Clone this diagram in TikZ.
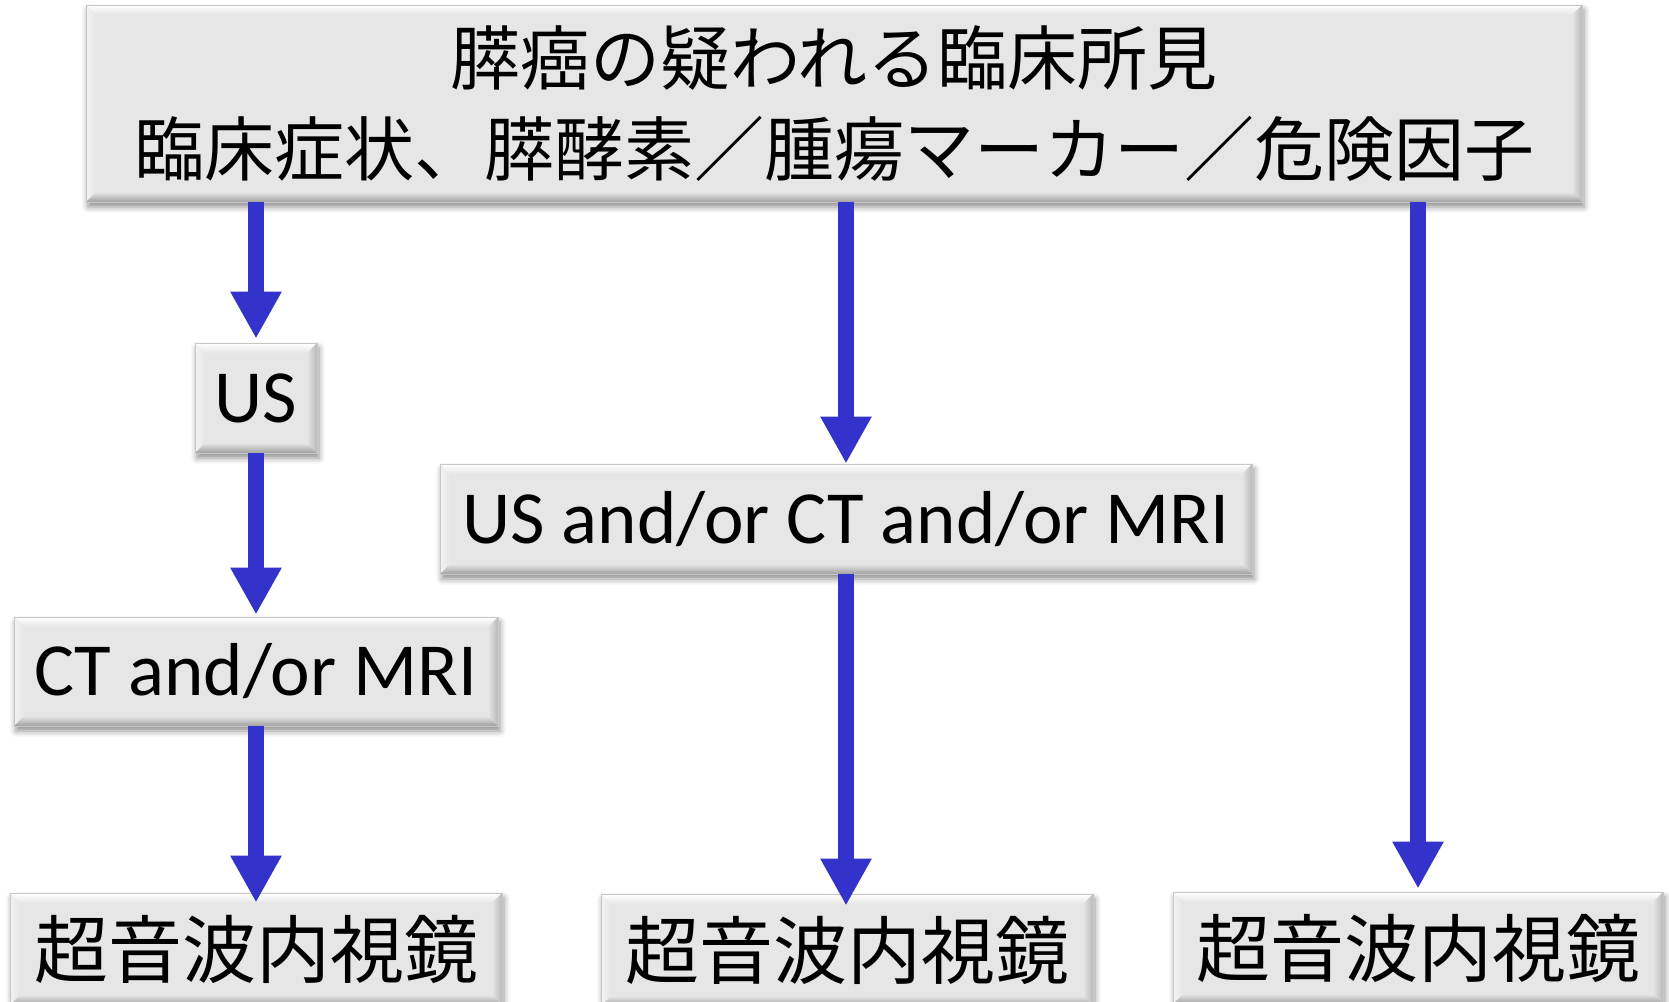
\documentclass[tikz,border=0pt]{standalone}
\usepackage{fontspec}
\setmainfont{Carlito}
\newfontfamily\jpfont{Noto Sans CJK JP}
\usetikzlibrary{arrows.meta,calc,shadows.blur}
\definecolor{boxgray}{RGB}{230,230,230}
\definecolor{bevmid}{RGB}{185,185,185}
\definecolor{bevdark}{RGB}{160,160,160}
\definecolor{arrowblue}{RGB}{51,51,204}
\tikzset{
  bevelbox/.style={rectangle, inner sep=0pt, fill=boxgray, draw=black!22, line width=0.4pt,
    blur shadow={shadow xshift=1pt, shadow yshift=-2.5pt, shadow blur radius=3pt, shadow opacity=45},
    path picture={
      \coordinate (bNW) at (path picture bounding box.north west);
      \coordinate (bNE) at (path picture bounding box.north east);
      \coordinate (bSW) at (path picture bounding box.south west);
      \coordinate (bSE) at (path picture bounding box.south east);
      \coordinate (iNW) at ($(bNW)+(5pt,-5pt)$);
      \coordinate (iNE) at ($(bNE)+(-5pt,-5pt)$);
      \coordinate (iSW) at ($(bSW)+(5pt,5pt)$);
      \coordinate (iSE) at ($(bSE)+(-5pt,5pt)$);
      \shade[top color=white, bottom color=boxgray] (bNW) -- (bNE) -- (iNE) -- (iNW) -- cycle;
      \shade[left color=white!50!boxgray, right color=boxgray] (bNW) -- (iNW) -- (iSW) -- (bSW) -- cycle;
      \shade[left color=boxgray, right color=bevmid] (bNE) -- (bSE) -- (iSE) -- (iNE) -- cycle;
      \shade[top color=boxgray, bottom color=bevdark] (bSW) -- (iSW) -- (iSE) -- (bSE) -- cycle;
    }},
  jptext/.style={font=\jpfont\fontsize{35pt}{45.5pt}\selectfont, align=center},
  jpbig/.style={font=\jpfont\fontsize{37pt}{44pt}\selectfont},
  latin/.style={font=\fontsize{37.5pt}{45pt}\selectfont, text height=24.1pt, text depth=0pt},
  arr/.style={draw=arrowblue, line width=8pt, -{Triangle[width=24pt,length=23.5pt]}}
}
\begin{document}
\begin{tikzpicture}[x=0.5pt,y=-0.5pt]
\path[use as bounding box] (0,0) rectangle (1669,1001);
\clip (0,0) rectangle (1669,1001);
\node[bevelbox, jptext, minimum width=748pt, minimum height=98.5pt] (top) at (834,103.5)
  {膵癌の疑われる臨床所見\\臨床症状、膵酵素／腫瘍マーカー／危険因子};
\node[bevelbox, latin, minimum width=61pt, minimum height=55pt] (us) at (256,398) {US};
\node[bevelbox, latin, minimum width=242pt, minimum height=54.5pt] (ct) at (256,671.5) {CT and/or MRI};
\node[bevelbox, latin, minimum width=406pt, minimum height=55pt] (mid) at (846,519) {US and/or CT and/or MRI};
\node[bevelbox, jpbig, minimum width=246pt, minimum height=56pt] (b1) at (256,949) {超音波内視鏡};
\node[bevelbox, jpbig, minimum width=246pt, minimum height=56pt] (b2) at (847,950) {超音波内視鏡};
\node[bevelbox, jpbig, minimum width=245pt, minimum height=56pt] (b3) at (1418,948) {超音波内視鏡};
\draw[arr, shorten >=2pt] (top.south -| us.north) -- (us.north);
\draw[arr, shorten >=1pt] (us.south) -- (ct.north);
\draw[arr, shorten >=-5pt] (ct.south) -- (b1.north);
\draw[arr] (top.south -| mid.north) -- (mid.north);
\draw[arr, shorten >=-6pt] (mid.south) -- (mid.south |- b2.north);
\draw[arr, shorten >=1.5pt] (top.south -| b3.north) -- (b3.north);
\end{tikzpicture}
\end{document}
